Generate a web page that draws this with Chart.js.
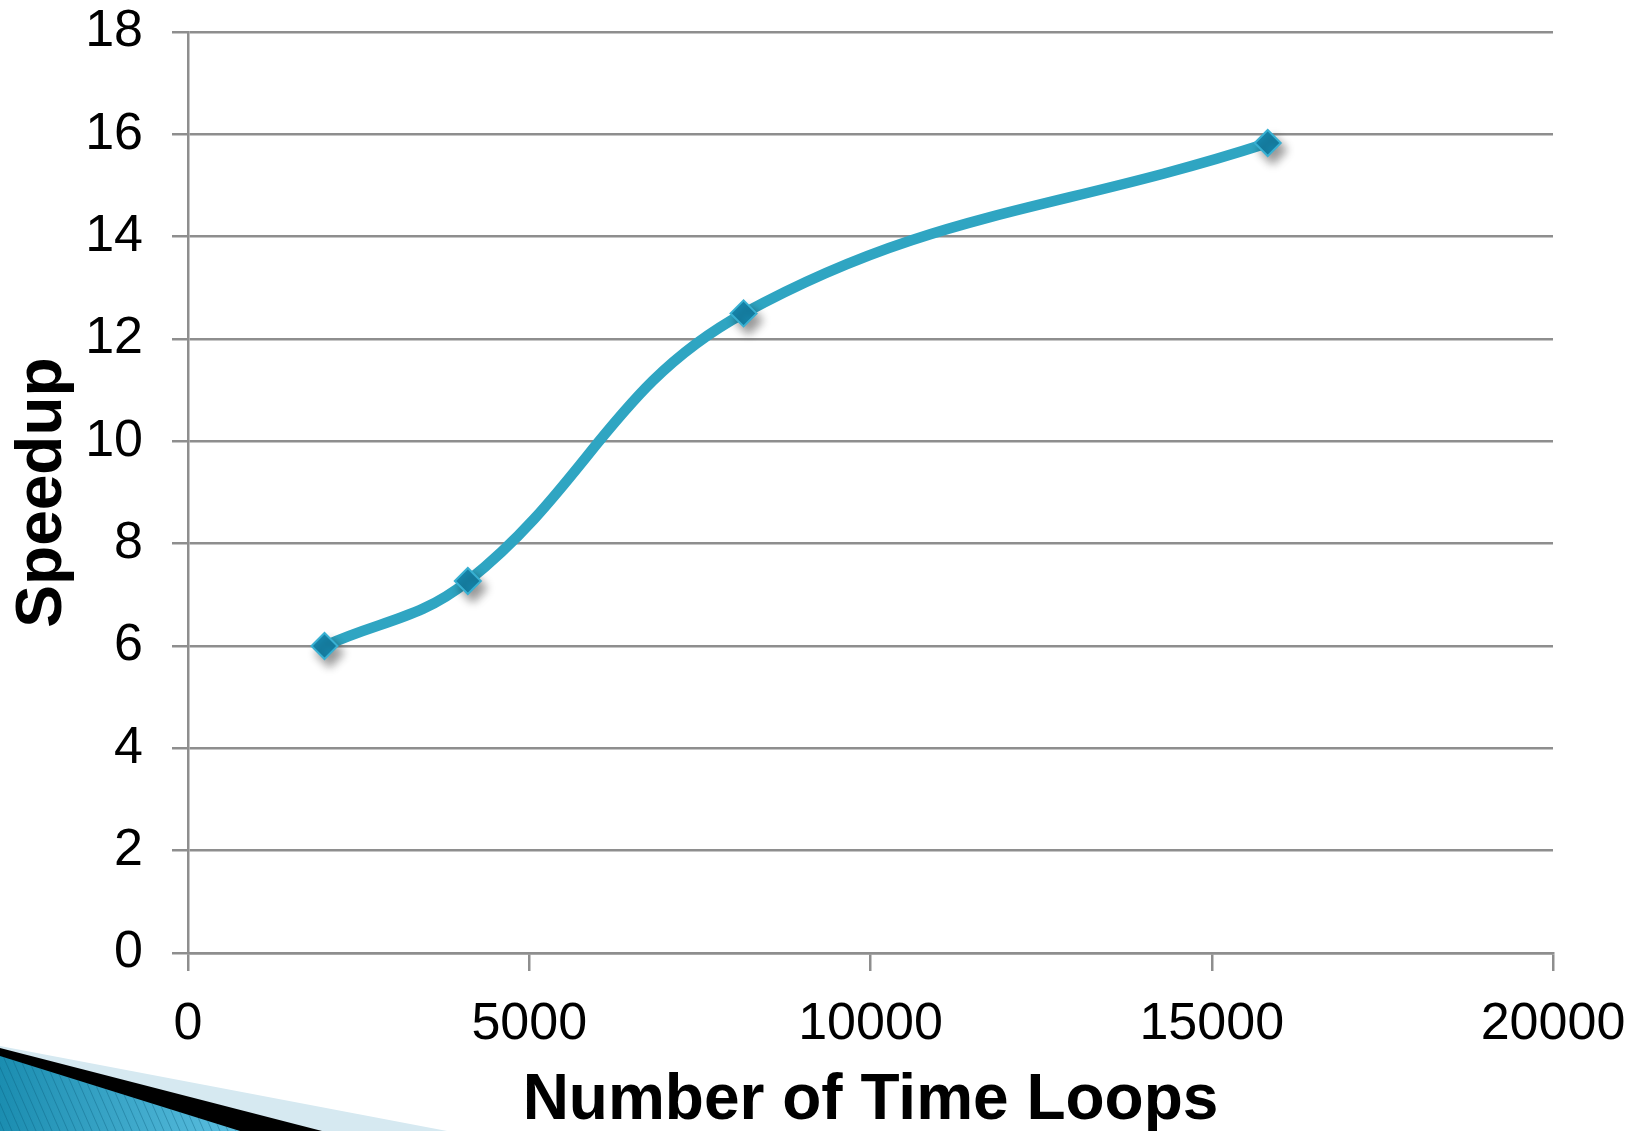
<!DOCTYPE html>
<html>
<head>
<meta charset="utf-8">
<script src="https://cdn.jsdelivr.net/npm/chart.js@4/dist/chart.umd.min.js"></script>
<style>
  html, body { margin: 0; padding: 0; background: #ffffff; }
  #wrap { width: 1642px; height: 1131px; }
</style>
</head>
<body>
<div id="wrap"><canvas id="c" width="1642" height="1131"></canvas></div>
<script>
// ---- Data ----
const timeLoops = [2000, 4100, 8140, 15820];
const speedup   = [6.0, 7.27, 12.5, 15.83];
const xTicks = [0, 5000, 10000, 15000, 20000];
const yTicks = [0, 2, 4, 6, 8, 10, 12, 14, 16, 18];
const xTitle = 'Number of Time Loops';
const yTitle = 'Speedup';

const points = timeLoops.map((x, i) => ({ x: x, y: speedup[i] }));

const GRID = '#8e8e8e';
const LINE = '#2fa5c2';

const bgPlugin = {
  id: 'bg',
  beforeDraw(chart) {
    const ctx = chart.ctx;
    ctx.save();
    ctx.fillStyle = '#ffffff';
    ctx.fillRect(0, 0, chart.width, chart.height);
    // decorative slide corner
    const H = chart.height;
    ctx.beginPath();
    ctx.moveTo(0, 1046); ctx.lineTo(447, H); ctx.lineTo(0, H); ctx.closePath();
    ctx.fillStyle = '#d6e9f1';
    ctx.fill();
    ctx.beginPath();
    ctx.moveTo(0, 1048); ctx.lineTo(322, H); ctx.lineTo(0, H); ctx.closePath();
    ctx.fillStyle = '#000000';
    ctx.fill();
    ctx.beginPath();
    ctx.moveTo(0, 1056); ctx.lineTo(240, H); ctx.lineTo(0, H); ctx.closePath();
    const g = ctx.createLinearGradient(0, 0, 240, 0);
    g.addColorStop(0, '#1b8db0');
    g.addColorStop(1, '#5bbfe0');
    ctx.fillStyle = g;
    ctx.fill();
    ctx.clip();
    ctx.strokeStyle = 'rgba(10,90,120,0.35)';
    ctx.lineWidth = 1;
    for (let s = -100; s < 320; s += 8) {
      ctx.beginPath();
      ctx.moveTo(s, 1040);
      ctx.lineTo(s + 40, H);
      ctx.stroke();
    }
    ctx.restore();
  }
};

const shadowPlugin = {
  id: 'pointShadow',
  beforeDatasetDraw(chart, args) {
    if (args.index === 0) {
      const ctx = chart.ctx;
      ctx.save();
      ctx.shadowColor = 'rgba(0,0,0,0.4)';
      ctx.shadowBlur = 10;
      ctx.shadowOffsetX = 5;
      ctx.shadowOffsetY = 7;
    }
  },
  afterDatasetDraw(chart, args) {
    if (args.index === 0) chart.ctx.restore();
  }
};

new Chart(document.getElementById('c'), {
  type: 'scatter',
  data: {
    datasets: [
      {
        label: 'points',
        data: points,
        showLine: false,
        pointStyle: 'rectRot',
        pointRadius: 13,
        pointBackgroundColor: '#1685ab',
        pointBorderColor: '#38b0d2',
        pointBorderWidth: 2
      },
      {
        label: 'Speedup',
        data: points,
        showLine: true,
        borderColor: LINE,
        borderWidth: 10.5,
        tension: 0.4,
        pointRadius: 0,
        fill: false
      }
    ]
  },
  plugins: [bgPlugin, shadowPlugin],
  options: {
    responsive: false,
    animation: false,
    events: [],
    layout: { padding: { top: 32, right: 89, left: 0, bottom: 0 } },
    plugins: { legend: { display: false }, tooltip: { enabled: false } },
    scales: {
      x: {
        type: 'linear',
        min: xTicks[0],
        max: xTicks[xTicks.length - 1],
        afterBuildTicks(scale) { scale.ticks = xTicks.map(v => ({ value: v })); },
        afterFit(scale) {
          scale.height = 178;
          scale.paddingLeft = 0; scale.paddingRight = 0;
          scale.paddingTop = 0; scale.paddingBottom = 0;
        },
        ticks: {
          color: '#000000',
          font: { family: 'Liberation Sans, Arial, sans-serif', size: 52 },
          padding: 22,
          maxRotation: 0,
          callback: v => String(v)
        },
        grid: {
          drawOnChartArea: false,
          drawTicks: true,
          tickLength: 18,
          color: GRID,
          lineWidth: 2.5
        },
        border: { display: true, color: GRID, width: 2.5 },
        title: {
          display: true,
          text: xTitle,
          color: '#000000',
          font: { family: 'Liberation Sans, Arial, sans-serif', size: 64, weight: 'bold', lineHeight: 0.94 },
          padding: { top: 0, bottom: 0 }
        }
      },
      y: {
        type: 'linear',
        min: yTicks[0],
        max: yTicks[yTicks.length - 1],
        afterBuildTicks(scale) { scale.ticks = yTicks.map(v => ({ value: v })); },
        afterFit(scale) {
          scale.width = 188;
          scale.paddingLeft = 0; scale.paddingRight = 0;
          scale.paddingTop = 0; scale.paddingBottom = 0;
        },
        ticks: {
          color: '#000000',
          font: { family: 'Liberation Sans, Arial, sans-serif', size: 52 },
          padding: 29,
          callback: v => String(v)
        },
        grid: {
          drawOnChartArea: true,
          drawTicks: true,
          tickLength: 16,
          color: GRID,
          lineWidth: 2.5
        },
        border: { display: true, color: GRID, width: 2.5 },
        title: {
          display: true,
          text: yTitle,
          color: '#000000',
          font: { family: 'Liberation Sans, Arial, sans-serif', size: 64, weight: 'bold', lineHeight: 1 },
          padding: { top: 11, bottom: 0 }
        }
      }
    }
  }
});
</script>
</body>
</html>
